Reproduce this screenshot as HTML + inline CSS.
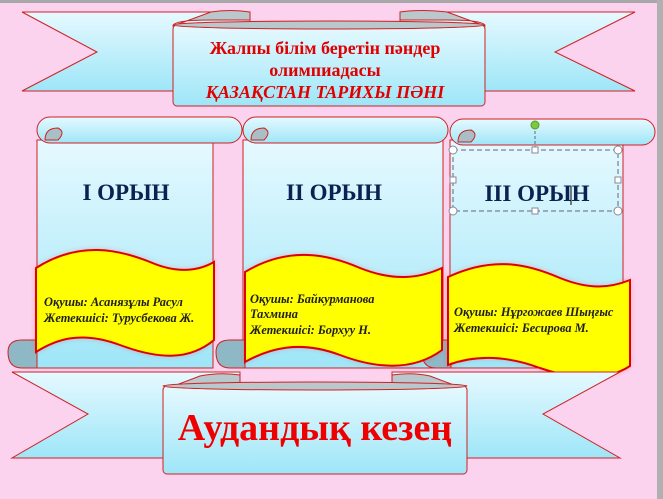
<!DOCTYPE html>
<html><head><meta charset="utf-8"><style>
html,body{margin:0;padding:0;background:#fbd3ef;}
svg{display:block}
</style></head><body>
<svg width="663" height="499" viewBox="0 0 663 499" xmlns="http://www.w3.org/2000/svg" font-family="Liberation Serif, serif">
<defs>
<linearGradient id="bl" x1="0" y1="0" x2="0" y2="1"><stop offset="0" stop-color="#e6f9ff"/><stop offset="1" stop-color="#9ee6f8"/></linearGradient>
<filter id="gl" x="-10%" y="-10%" width="120%" height="120%"><feGaussianBlur stdDeviation="3"/></filter>
</defs>
<rect width="663" height="499" fill="#fbd3ef"/>
<rect width="663" height="3" fill="#a8a8a8"/>
<rect x="657" y="0" width="6" height="499" fill="#b0b0b0"/>

<!-- top banner tails -->
<path d="M22,12 L250,12 L250,91 L22,91 L97,52 Z" fill="url(#bl)" stroke="#d02020"/>
<path d="M635,12 L400,12 L400,91 L635,91 L555,52 Z" fill="url(#bl)" stroke="#d02020"/>
<path d="M173,26 Q173,20 211,20 L250,20 L250,12 Q230,9 211,12 Z" fill="#b8c8cc" stroke="#d02020"/>
<path d="M485,26 Q485,20 447,20 L400,20 L400,12 Q420,9 447,12 Z" fill="#b8c8cc" stroke="#d02020"/>
<rect x="173" y="25" width="312" height="81" rx="4" fill="url(#bl)" stroke="#d02020"/>
<ellipse cx="329" cy="25" rx="156" ry="4" fill="#b8c8cc" stroke="#d02020"/>
<text x="325" y="54" text-anchor="middle" font-size="18" font-weight="bold" fill="#e00000">Жалпы  білім беретін пәндер</text>
<text x="325" y="76" text-anchor="middle" font-size="18" font-weight="bold" fill="#e00000">олимпиадасы</text>
<text x="325" y="98" text-anchor="middle" font-size="18" font-weight="bold" font-style="italic" fill="#e00000">ҚАЗАҚСТАН  ТАРИХЫ   ПӘНІ</text>

<!-- scrolls -->
<g stroke="#d02020" stroke-width="1">
<rect x="37" y="140" width="176" height="228" fill="url(#bl)"/>
<rect x="37" y="117" width="205" height="26" rx="13" fill="url(#bl)"/>
<path d="M45,140 Q45,128 58,128 Q66,132 58,140 Z" fill="#a9bfc6"/>
<path d="M8,352 Q8,340 22,340 L37,340 L37,368 L22,368 Q8,368 8,352 Z" fill="#8fb8c6"/>
<rect x="243" y="140" width="200" height="228" fill="url(#bl)"/>
<rect x="243" y="117" width="205" height="26" rx="13" fill="url(#bl)"/>
<path d="M251,140 Q251,128 264,128 Q272,132 264,140 Z" fill="#a9bfc6"/>
<path d="M216,352 Q216,340 230,340 L245,340 L245,368 L230,368 Q216,368 216,352 Z" fill="#8fb8c6"/>
<rect x="450" y="140" width="173" height="228" fill="url(#bl)"/>
<rect x="450" y="119" width="205" height="26" rx="13" fill="url(#bl)"/>
<path d="M458,142 Q458,130 471,130 Q479,134 471,142 Z" fill="#a9bfc6"/>
<path d="M422,352 Q422,340 436,340 L451,340 L451,368 L436,368 Q422,368 422,352 Z" fill="#8fb8c6"/>
</g>

<!-- yellow banners -->
<g>
<path d="M36,268 C80,240 120,250 150,262 C180,275 200,270 214,262 L214,340 C190,360 160,360 120,345 C80,330 55,340 36,352 Z" fill="#ff2020" opacity="0.35" filter="url(#gl)"/>
<path d="M36,268 C80,240 120,250 150,262 C180,275 200,270 214,262 L214,340 C190,360 160,360 120,345 C80,330 55,340 36,352 Z" fill="#ffff00" stroke="#e00000" stroke-width="2"/>
<path d="M245,272 C290,245 330,255 360,268 C395,282 420,278 442,268 L442,350 C415,370 380,370 340,355 C300,340 270,348 245,362 Z" fill="#ff2020" opacity="0.35" filter="url(#gl)"/>
<path d="M245,272 C290,245 330,255 360,268 C395,282 420,278 442,268 L442,350 C415,370 380,370 340,355 C300,340 270,348 245,362 Z" fill="#ffff00" stroke="#e00000" stroke-width="2"/>
<path d="M448,277 C495,255 530,265 560,278 C590,290 610,288 630,280 L630,366 C605,382 575,380 540,368 C505,355 475,355 448,365 Z" fill="#ff2020" opacity="0.35" filter="url(#gl)"/>
<path d="M448,277 C495,255 530,265 560,278 C590,290 610,288 630,280 L630,366 C605,382 575,380 540,368 C505,355 475,355 448,365 Z" fill="#ffff00" stroke="#e00000" stroke-width="2"/>
</g>

<text x="126" y="200" text-anchor="middle" font-size="23" font-weight="bold" fill="#0b2250">I  ОРЫН</text>
<text x="334" y="200" text-anchor="middle" font-size="23" font-weight="bold" fill="#0b2250">II ОРЫН</text>
<text x="537" y="201" text-anchor="middle" font-size="23" font-weight="bold" fill="#0b2250">III ОРЫН</text>

<g font-size="12.4" font-style="italic" font-weight="bold" fill="#202020">
<text x="44" y="306">Оқушы: Асанязұлы Расул</text>
<text x="44" y="322">Жетекшісі: Турусбекова Ж.</text>
<text x="250" y="303">Оқушы: Байкурманова</text>
<text x="250" y="318">Тахмина</text>
<text x="250" y="334">Жетекшісі: Борхуу Н.</text>
<text x="454" y="316">Оқушы: Нұргожаев Шыңғыс</text>
<text x="454" y="332">Жетекшісі: Бесирова М.</text>
</g>

<g stroke="#667" fill="none">
<line x1="535" y1="126" x2="535" y2="150" stroke-dasharray="3,2"/>
<rect x="453" y="150" width="165" height="61" stroke-dasharray="5,3"/>
<line x1="571" y1="186" x2="571" y2="205" stroke="#000"/>
</g>
<circle cx="535" cy="125" r="4" fill="#7cc840" stroke="#5a9a30"/>
<g fill="#fff" stroke="#889">
<circle cx="453" cy="150" r="4"/><circle cx="618" cy="150" r="4"/><circle cx="453" cy="211" r="4"/><circle cx="618" cy="211" r="4"/>
<rect x="532" y="147" width="6" height="6"/><rect x="532" y="208" width="6" height="6"/><rect x="450" y="177" width="6" height="6"/><rect x="615" y="177" width="6" height="6"/>
</g>

<!-- bottom banner -->
<path d="M12,372 L240,372 L240,458 L12,458 L88,414 Z" fill="url(#bl)" stroke="#d02020"/>
<path d="M620,372 L392,372 L392,458 L620,458 L543,414 Z" fill="url(#bl)" stroke="#d02020"/>
<path d="M163,390 Q163,384 200,384 L240,384 L240,375 Q220,372 200,376 Z" fill="#b8c8cc" stroke="#d02020"/>
<path d="M467,390 Q467,384 430,384 L392,384 L392,375 Q412,372 430,376 Z" fill="#b8c8cc" stroke="#d02020"/>
<rect x="163" y="386" width="304" height="88" rx="4" fill="url(#bl)" stroke="#d02020"/>
<ellipse cx="315" cy="386" rx="152" ry="4" fill="#b8c8cc" stroke="#d02020"/>
<text x="315" y="440" text-anchor="middle" font-size="38" font-weight="bold" fill="#ee0000">Аудандық кезең</text>
</svg>
</body></html>
